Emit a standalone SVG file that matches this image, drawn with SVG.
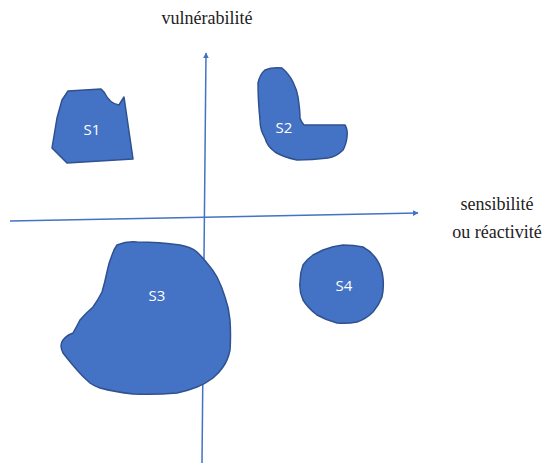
<svg xmlns="http://www.w3.org/2000/svg" width="547" height="466" viewBox="0 0 547 466">
<style>
.zone{fill:#4472C4;stroke:#2F528F;stroke-width:1.5;stroke-linejoin:round}
.lbl{font-family:'Open Sans','Liberation Sans',sans-serif;font-size:15px;fill:#fff;text-anchor:middle}
.ax{font-family:'Liberation Serif','DejaVu Serif',serif;font-size:18px;fill:#222;text-anchor:middle}
.axis{stroke:#4472C4;stroke-width:1.5;fill:none}
</style>
<defs>
<marker id="arr" viewBox="0 0 10 10" refX="9" refY="5" markerWidth="6" markerHeight="6" orient="auto" markerUnits="userSpaceOnUse">
<path d="M0,0 L10,5 L0,10 z" fill="#4472C4"/>
</marker>
</defs>
<g id="connectors">
<line class="axis" x1="202" y1="463" x2="206" y2="53" marker-end="url(#arr)"/>
<line class="axis" x1="10" y1="221" x2="418" y2="213" marker-end="url(#arr)"/>
</g>
<g id="S1">
<path class="zone" d="M68,91 L101,89 L104,92 Q110,104 119,105 Q122,100 124,97 L133,159 L67,163 L52,148 L57,118 L62,100 Z"/>
<text class="lbl" x="92" y="135">S1</text>
</g>
<g id="S2">
<path class="zone" d="M265,70 Q272,67 282,68 Q289,74 293,82 Q297,90 298,97 Q300,110 300,118 Q301,122 304,125 L345,125 Q348,130 347,137 Q346,145 343,150 Q336,157 328,158 Q312,160 297,160 Q283,157 275,152 Q267,146 265,138 Q260,130 260,120 Q258,100 258,83 Q260,74 265,70 Z"/>
<text class="lbl" x="284" y="133">S2</text>
</g>
<g id="S3">
<path class="zone" d="M117,245 Q127,241 137,242 Q160,242 180,245 Q191,247 197,252 Q203,258 207,263 Q213,270 217,277 Q222,287 225,297 Q229,308 230,320 Q231,336 230,350 Q228,360 223,367 Q219,373 213,378 Q205,384 197,387 Q187,391 177,393 Q155,395 133,394 Q115,392 100,388 Q94,386 90,383 Q83,377 77,370 Q70,362 63,353 Q59,345 63,340 Q67,335 73,333 Q77,326 80,320 Q86,313 93,307 Q98,300 102,292 Q105,282 107,272 Q109,262 112,255 Q114,249 117,245 Z"/>
<text class="lbl" x="157" y="301">S3</text>
</g>
<g id="S4">
<path class="zone" d="M323,250 Q333,246 343,245 Q354,245 363,247 Q372,252 377,260 Q382,268 383,278 Q384,288 382,297 Q379,305 373,312 Q366,319 357,322 Q347,324 337,323 Q326,320 317,315 Q308,308 303,300 Q299,291 300,282 Q300,273 303,265 Q307,259 313,255 Z"/>
<text class="lbl" x="344" y="291">S4</text>
</g>
<text class="ax" x="207" y="24" font-family="Liberation Serif, serif">vulnérabilité</text>
<text class="ax" x="497" y="210" font-family="Liberation Serif, serif">sensibilité</text>
<text class="ax" x="497" y="238" font-family="Liberation Serif, serif">ou réactivité</text>
</svg>
